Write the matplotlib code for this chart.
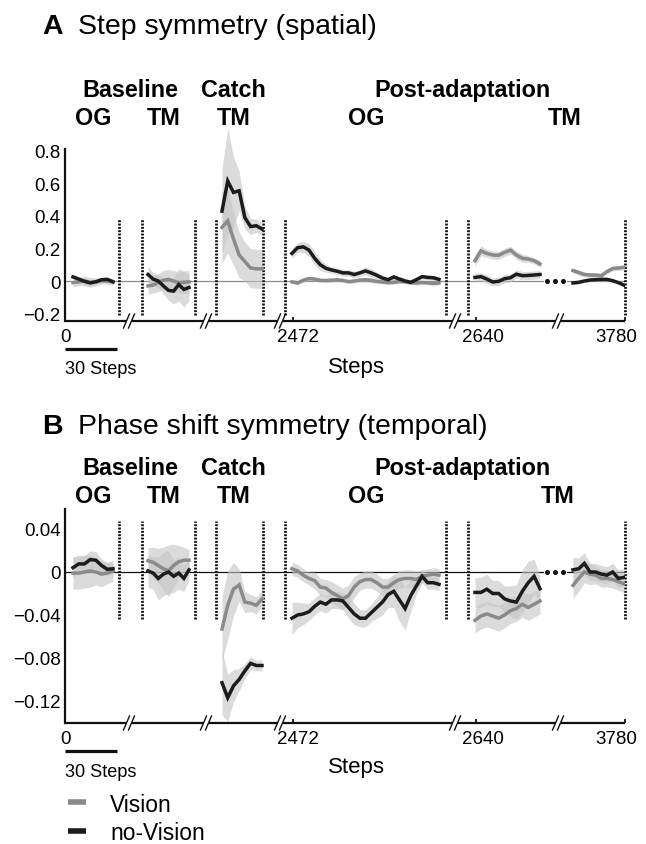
import numpy as np
import matplotlib.pyplot as plt
from matplotlib.lines import Line2D
from matplotlib.transforms import blended_transform_factory

plt.rcParams['font.family'] = ['Liberation Sans', 'DejaVu Sans']

W, H = 646, 845

# ---------------- data: panel A (step symmetry) ----------------
a_vis_bog = [-0.01, -0.005, 0.0, -0.008, -0.005, 0.002, 0.0, -0.005]
a_nov_bog = [0.025, 0.012, -0.002, -0.012, -0.005, 0.008, 0.01, -0.005]
a_vis_btm = [-0.03, -0.025, -0.01, 0.005, 0.01, 0.0, -0.01, -0.008, -0.005]
a_nov_btm = [0.04, 0.012, 0.0, -0.03, -0.058, -0.062, -0.022, -0.052, -0.04]
a_vis_catch = [0.33, 0.37, 0.26, 0.16, 0.12, 0.08, 0.075, 0.075]
a_nov_catch = [0.43, 0.615, 0.545, 0.555, 0.39, 0.335, 0.34, 0.32]
a_vis_pog = [-0.005, -0.012, 0.005, 0.015, 0.012, 0.004, 0.003, 0.005, 0.007,
             0.004, -0.004, 0.0, 0.006, 0.008, 0.004, -0.002, -0.006, -0.01,
             -0.008, -0.003, -0.004, -0.01, -0.012, -0.009, -0.011, -0.015, -0.012]
a_nov_pog = [0.17, 0.205, 0.21, 0.19, 0.14, 0.10, 0.078, 0.068, 0.06,
             0.05, 0.05, 0.04, 0.05, 0.062, 0.05, 0.035, 0.018, 0.008,
             0.025, 0.012, 0.0, -0.008, 0.008, 0.027, 0.022, 0.02, 0.01]
a_vis_ptm1 = [0.125, 0.185, 0.17, 0.16, 0.158, 0.176, 0.19, 0.16, 0.14, 0.135, 0.125, 0.105]
a_nov_ptm1 = [0.022, 0.027, 0.012, -0.006, -0.002, 0.014, 0.02, 0.042, 0.033, 0.034, 0.037, 0.04]
a_vis_ptm2 = [0.064, 0.052, 0.04, 0.037, 0.036, 0.033, 0.058, 0.077, 0.08, 0.084]
a_nov_ptm2 = [-0.012, -0.008, 0.0, 0.006, 0.008, 0.01, 0.01, 0.002, -0.01, -0.025]

# shaded error (half width)
ea_vis_bog = [0.025, 0.025, 0.03, 0.03, 0.025, 0.02, 0.02, 0.02]
ea_nov_bog = [0.015, 0.015, 0.02, 0.02, 0.015, 0.015, 0.015, 0.015]
ea_vis_btm = [0.05, 0.05, 0.055, 0.06, 0.06, 0.065, 0.065, 0.07, 0.07]
ea_nov_btm = [0.05, 0.04, 0.04, 0.05, 0.06, 0.08, 0.1, 0.11, 0.08]
ea_vis_catch = [0.22, 0.2, 0.16, 0.14, 0.12, 0.12, 0.12, 0.12]
ea_nov_catch = [0.26, 0.33, 0.22, 0.12, 0.07, 0.05, 0.04, 0.04]
ea_vis_pog = [0.012, 0.012, 0.012, 0.012, 0.012, 0.012, 0.012, 0.012, 0.012,
              0.012, 0.012, 0.012, 0.012, 0.015, 0.015, 0.012, 0.012, 0.012,
              0.012, 0.012, 0.012, 0.012, 0.012, 0.012, 0.012, 0.012, 0.012]
ea_nov_pog = [0.03, 0.03, 0.035, 0.04, 0.04, 0.035, 0.025, 0.02, 0.02,
              0.02, 0.02, 0.02, 0.02, 0.025, 0.025, 0.02, 0.015, 0.015,
              0.015, 0.015, 0.015, 0.015, 0.015, 0.015, 0.015, 0.015, 0.015]
ea_vis_ptm1 = [0.035, 0.03, 0.025, 0.025, 0.025, 0.025, 0.025, 0.025, 0.025, 0.02, 0.02, 0.02]
ea_nov_ptm1 = [0.025, 0.025, 0.025, 0.025, 0.025, 0.025, 0.025, 0.025, 0.025, 0.025, 0.025, 0.025]
ea_vis_ptm2 = [0.015, 0.015, 0.015, 0.015, 0.015, 0.015, 0.015, 0.015, 0.015, 0.015]
ea_nov_ptm2 = [0.01, 0.01, 0.01, 0.01, 0.01, 0.01, 0.01, 0.01, 0.01, 0.012]

# ---------------- data: panel B (phase shift symmetry) ----------------
b_vis_bog = [-0.001, -0.001, 0.0, 0.001, 0.0, -0.002, -0.001, 0.001]
b_nov_bog = [0.004, 0.0075, 0.0075, 0.0115, 0.011, 0.006, 0.0025, 0.003]
b_vis_btm = [0.0105, 0.009, 0.006, 0.003, 0.001, 0.006, 0.0095, 0.011, 0.011]
b_nov_btm = [0.001, -0.001, -0.006, -0.002, 0.0, -0.004, -0.001, -0.006, 0.002]
b_vis_catch = [-0.053, -0.031, -0.016, -0.012, -0.028, -0.029, -0.031, -0.025]
b_nov_catch = [-0.103, -0.117, -0.106, -0.1, -0.092, -0.085, -0.087, -0.087]
b_vis_pog = [0.003, 0.001, -0.003, -0.006, -0.008, -0.014, -0.015, -0.019, -0.022,
             -0.025, -0.022, -0.014, -0.009, -0.007, -0.007, -0.01, -0.014, -0.014,
             -0.01, -0.007, -0.006, -0.006, -0.007, -0.004, -0.003, -0.002, -0.003]
b_nov_pog = [-0.043, -0.040, -0.039, -0.037, -0.032, -0.028, -0.030, -0.026, -0.026,
             -0.027, -0.033, -0.039, -0.043, -0.043, -0.038, -0.033, -0.028, -0.021,
             -0.018, -0.026, -0.034, -0.022, -0.013, -0.004, -0.01, -0.01, -0.0115]
b_vis_ptm1 = [-0.045, -0.041, -0.039, -0.041, -0.043, -0.04, -0.036, -0.034, -0.03, -0.033, -0.03, -0.027]
b_nov_ptm1 = [-0.019, -0.019, -0.016, -0.02, -0.02, -0.025, -0.027, -0.028, -0.018, -0.01, -0.004, -0.0155]
b_vis_ptm2 = [-0.0125, -0.006, 0.0, -0.002, -0.003, -0.006, -0.006, -0.007, -0.009, -0.011]
b_nov_ptm2 = [0.002, 0.003, 0.008, 0.0, 0.0, -0.002, -0.003, 0.0, -0.006, -0.005]

eb_vis_bog = [0.015, 0.015, 0.015, 0.015, 0.012, 0.012, 0.01, 0.01]
eb_nov_bog = [0.01, 0.008, 0.008, 0.008, 0.008, 0.006, 0.006, 0.005]
eb_vis_btm = [0.012, 0.014, 0.016, 0.02, 0.024, 0.02, 0.015, 0.012, 0.01]
eb_nov_btm = [0.015, 0.015, 0.02, 0.02, 0.02, 0.015, 0.015, 0.012, 0.01]
eb_vis_catch = [0.03, 0.032, 0.025, 0.015, 0.01, 0.008, 0.008, 0.008]
eb_nov_catch = [0.03, 0.022, 0.015, 0.01, 0.007, 0.006, 0.005, 0.005]
eb_vis_pog = [0.006, 0.006, 0.006, 0.006, 0.008, 0.008, 0.008, 0.01, 0.01,
              0.01, 0.01, 0.01, 0.008, 0.008, 0.008, 0.008, 0.008, 0.008,
              0.008, 0.008, 0.008, 0.008, 0.008, 0.006, 0.006, 0.006, 0.006]
eb_nov_pog = [0.015, 0.012, 0.01, 0.008, 0.008, 0.008, 0.008, 0.008, 0.008,
              0.008, 0.01, 0.01, 0.008, 0.008, 0.008, 0.01, 0.012, 0.012,
              0.015, 0.02, 0.02, 0.015, 0.008, 0.006, 0.006, 0.006, 0.006]
eb_vis_ptm1 = [0.012, 0.012, 0.012, 0.012, 0.012, 0.012, 0.012, 0.012, 0.012, 0.012, 0.012, 0.012]
eb_nov_ptm1 = [0.014, 0.014, 0.014, 0.012, 0.012, 0.012, 0.014, 0.016, 0.02, 0.02, 0.016, 0.012]
eb_vis_ptm2 = [0.012, 0.012, 0.01, 0.01, 0.008, 0.008, 0.008, 0.008, 0.008, 0.008]
eb_nov_ptm2 = [0.012, 0.01, 0.01, 0.008, 0.008, 0.008, 0.008, 0.008, 0.008, 0.008]

segments = ['bog', 'btm', 'catch', 'pog', 'ptm1', 'ptm2']
x_tick_labels = ['0', '2472', '2640', '3780']
legend_labels = ['Vision', 'no-Vision']

# ---------------- layout (pixels from the left spine) ----------------
seg_x = {'bog': (8, 48), 'btm': (83, 124), 'catch': (157, 197),
         'pog': (227, 374), 'ptm1': (410, 475), 'ptm2': (508, 559)}
dotted_x = [54, 77, 130, 151, 198, 220, 381, 403, 560]
break_x = [64, 141, 215, 390, 493]
tick_pos = [228, 411, 560]
label_pos = [0.7, 233, 417.5, 551]
dots_x = [482, 490, 498]

c_vis = '#8a8a8a'
c_nov = '#1c1c1c'
c_band = '#c4c4c4'

fig = plt.figure(figsize=(W / 100, H / 100), dpi=100)


def fx(x):
    return x / W


def fy(y):
    return 1 - y / H


def draw_panel(top, bottom, ylim, yticks, yticklabels, data, zero_color, dot_span):
    ax = fig.add_axes([65 / W, 1 - bottom / H, 560 / W, (bottom - top) / H])
    ax.set_xlim(0, 560)
    ax.set_ylim(*ylim)
    h_px = bottom - top
    for s in ['top', 'right', 'bottom']:
        ax.spines[s].set_visible(False)
    ax.spines['left'].set_linewidth(1.6)
    ax.spines['left'].set_color('#111111')
    ax.set_yticks(yticks)
    ax.set_yticklabels(yticklabels, fontsize=13.5)
    ax.tick_params(axis='y', length=0, pad=3)
    ax.set_xticks(tick_pos)
    ax.set_xticklabels([])
    ax.tick_params(axis='x', direction='in', length=3, width=1.2)

    # zero line, interrupted by the "..."
    ax.plot([0, 478], [0, 0], color=zero_color, lw=0.9, zorder=1)
    ax.plot([502, 560], [0, 0], color=zero_color, lw=0.9, zorder=1)
    ax.plot(dots_x, [0, 0, 0], 'o', color='#111111', ms=2.6, zorder=5)

    # dotted condition boundaries
    for xd in dotted_x:
        ax.plot([xd, xd], dot_span, color='#111111', lw=2.0,
                linestyle=(0, (0.7, 0.5)), zorder=2, clip_on=False)

    # shaded bands, then lines
    for seg in segments:
        vis, nov, evis, enov = data[seg]
        x = np.linspace(seg_x[seg][0], seg_x[seg][1], len(vis))
        vis = np.array(vis)
        nov = np.array(nov)
        evis = np.array(evis)
        enov = np.array(enov)
        ax.fill_between(x, vis - evis, vis + evis, color=c_band, alpha=0.6,
                        lw=0, zorder=2, clip_on=False)
        ax.fill_between(x, nov - enov, nov + enov, color=c_band, alpha=0.6,
                        lw=0, zorder=2, clip_on=False)
        ax.plot(x, vis, color=c_vis, lw=2.5, zorder=3, solid_joinstyle='miter')
        ax.plot(x, nov, color=c_nov, lw=2.5, zorder=4, solid_joinstyle='miter')

    # broken x axis
    trans = blended_transform_factory(ax.transData, ax.transAxes)
    edges = [0]
    for b in break_x:
        edges += [b - 2.5, b + 2.5]
    edges.append(560)
    for i in range(0, len(edges), 2):
        ax.plot([edges[i], edges[i + 1]], [0, 0], transform=trans,
                color='#111111', lw=1.6, clip_on=False, solid_capstyle='butt')
    d = 7 / h_px
    for b in break_x:
        for off in (-2.5, 2.5):
            ax.plot([b + off - 3, b + off + 3], [-d, d], transform=trans,
                    color='#111111', lw=1.0, clip_on=False)
    return ax


data_a = {'bog': (a_vis_bog, a_nov_bog, ea_vis_bog, ea_nov_bog),
          'btm': (a_vis_btm, a_nov_btm, ea_vis_btm, ea_nov_btm),
          'catch': (a_vis_catch, a_nov_catch, ea_vis_catch, ea_nov_catch),
          'pog': (a_vis_pog, a_nov_pog, ea_vis_pog, ea_nov_pog),
          'ptm1': (a_vis_ptm1, a_nov_ptm1, ea_vis_ptm1, ea_nov_ptm1),
          'ptm2': (a_vis_ptm2, a_nov_ptm2, ea_vis_ptm2, ea_nov_ptm2)}
data_b = {'bog': (b_vis_bog, b_nov_bog, eb_vis_bog, eb_nov_bog),
          'btm': (b_vis_btm, b_nov_btm, eb_vis_btm, eb_nov_btm),
          'catch': (b_vis_catch, b_nov_catch, eb_vis_catch, eb_nov_catch),
          'pog': (b_vis_pog, b_nov_pog, eb_vis_pog, eb_nov_pog),
          'ptm1': (b_vis_ptm1, b_nov_ptm1, eb_vis_ptm1, eb_nov_ptm1),
          'ptm2': (b_vis_ptm2, b_nov_ptm2, eb_vis_ptm2, eb_nov_ptm2)}

draw_panel(150, 322, (-0.246, 0.812), [0.8, 0.6, 0.4, 0.2, 0, -0.2],
           ['0.8', '0.6', '0.4', '0.2', '0', '\u22120.2'], data_a, '#8a8a8a', (-0.21, 0.38))
draw_panel(510, 724, (-0.1405, 0.0586), [0.04, 0, -0.04, -0.08, -0.12],
           ['0.04', '0', '\u22120.04', '\u22120.08', '\u22120.12'], data_b, '#111111', (-0.044, 0.047))

# titles and condition headers
for y0, letter, title, r1, r2, tm_x in [(34, 'A', 'Step symmetry (spatial)', 96.7, 125, 564.5),
                                       (434, 'B', 'Phase shift symmetry (temporal)', 475, 503, 557.5)]:
    fig.text(fx(42), fy(y0), letter, fontsize=20.5, fontweight='bold', va='baseline', ha='left')
    fig.text(fx(78), fy(y0), title, fontsize=20.5, va='baseline', ha='left')
    for txt, xc in [('Baseline', 130), ('Catch', 233.5), ('Post-adaptation', 462.5)]:
        fig.text(fx(xc), fy(r1), txt, fontsize=16.8, fontweight='bold', ha='center', va='baseline')
    for txt, xc in [('OG', 93.5), ('TM', 163.5), ('TM', 234), ('OG', 366), ('TM', tm_x)]:
        fig.text(fx(xc), fy(r2), txt, fontsize=16.8, fontweight='bold', ha='center', va='baseline')

# x tick labels, axis label and scale bar
for base, steps_base, bar_y, bar_txt in [(342, 373, 350, 374), (744, 773, 752, 777)]:
    for lab, xp in zip(x_tick_labels, label_pos):
        fig.text(fx(65 + xp), fy(base), lab, fontsize=13.5, ha='center', va='baseline')
    fig.text(fx(356.5), fy(steps_base), 'Steps', fontsize=16, ha='center', va='baseline')
    fig.add_artist(Line2D([fx(65), fx(117)], [fy(bar_y), fy(bar_y)], color='#111111',
                          lw=2.3, solid_capstyle='butt'))
    fig.text(fx(65), fy(bar_txt), '30 Steps', fontsize=13.1, ha='left', va='baseline')

# legend
for lab, col, yl, yb in [(legend_labels[0], c_vis, 803, 812), (legend_labels[1], c_nov, 832, 840)]:
    fig.add_artist(Line2D([fx(68), fx(86)], [fy(yl), fy(yl)], color=col, lw=4,
                          solid_capstyle='butt'))
    fig.text(fx(110), fy(yb), lab, fontsize=16.4, ha='left', va='baseline')

fig.savefig('out.png', dpi=100)
